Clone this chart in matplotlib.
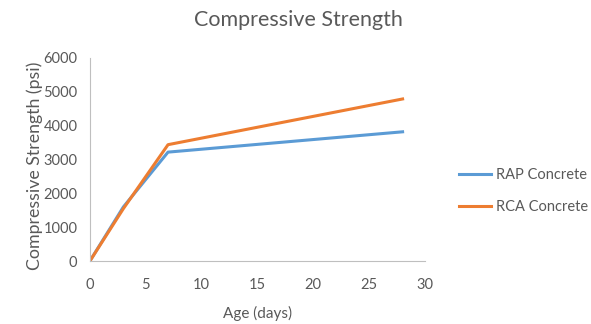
import matplotlib.pyplot as plt

plt.rcParams['font.family'] = ['Lato', 'DejaVu Sans']

age = [0, 3, 7, 28]
rap = [0, 1600, 3220, 3820]
rca = [0, 1550, 3440, 4790]
x_ticks = [0, 5, 10, 15, 20, 25, 30]
y_ticks = [0, 1000, 2000, 3000, 4000, 5000, 6000]

gray = '#595959'
fig = plt.figure(figsize=(5.91, 3.24), dpi=100)
ax = fig.add_axes([0.152, 0.194, 0.567, 0.627])

ax.plot(age, rap, color='#5B9BD5', lw=2.2, label='RAP Concrete')
ax.plot(age, rca, color='#ED7D31', lw=2.2, label='RCA Concrete')

ax.set_xlim(0, 30)
ax.set_ylim(0, 6000)
ax.set_xticks(x_ticks)
ax.set_yticks(y_ticks)
ax.tick_params(length=0, labelsize=10.5, colors=gray)
ax.tick_params(axis='x', pad=12)
ax.tick_params(axis='y', pad=9)
for s in ['top', 'right']:
    ax.spines[s].set_visible(False)
for s in ['left', 'bottom']:
    ax.spines[s].set_color('#BFBFBF')
    ax.spines[s].set_linewidth(0.8)

ax.set_xlabel('Age (days)', fontsize=11, color=gray, labelpad=10)
ax.set_ylabel('Compressive Strength (psi)', fontsize=12.8, color=gray)
ax.yaxis.set_label_coords(-0.14, 0.47)
fig.text(0.505, 0.938, 'Compressive Strength', fontsize=15.5, color=gray,
         ha='center', va='center')

leg = fig.legend(loc='center left', bbox_to_anchor=(0.755, 0.41), frameon=False,
                 fontsize=10.5, labelspacing=1.2, handlelength=2.2, handletextpad=0.3)
for t in leg.get_texts():
    t.set_color(gray)

fig.savefig('out.png', dpi=100)
